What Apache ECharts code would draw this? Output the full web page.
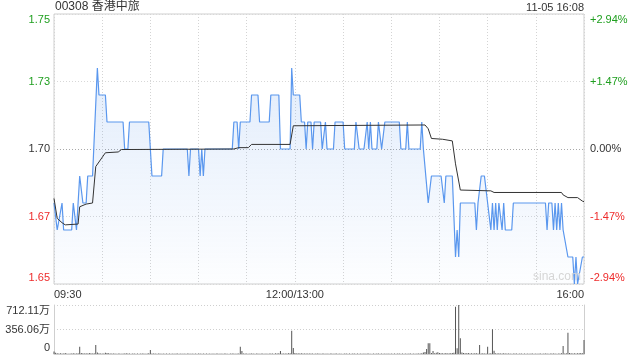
<!DOCTYPE html>
<html><head><meta charset="utf-8">
<script src="https://cdn.jsdelivr.net/npm/echarts@6/dist/echarts.min.js"></script>
<style>html,body{margin:0;padding:0;background:#fff}#c{width:640px;height:360px}</style>
</head><body><div id="c"></div>
<script>
const titleText = '00308 香港中旅';
const stampText = '11-05 16:08';
const priceTicks = ['1.65','1.67','1.70','1.73','1.75'];
const pctTicks = ['-2.94%','-1.47%','0.00%','+1.47%','+2.94%'];
const timeTickPos = [0,150,330];
const timeTickText = ['09:30','12:00/13:00','16:00'];
const volTicks = ['0','356.06万','712.11万'];

// [minute index since 09:30 (lunch removed), price]
const price = [[0,1.68],[2,1.67],[5,1.68],[6,1.67],[11,1.67],[12,1.68],[14,1.67],[15,1.67],[16,1.69],[18,1.68],[20,1.68],[21,1.69],[24,1.69],[27,1.73],[28,1.72],[32,1.72],[33,1.71],[43,1.71],[44,1.70],[46,1.70],[47,1.71],[59,1.71],[61,1.69],[67,1.69],[68,1.70],[83,1.70],[84,1.69],[85,1.70],[90,1.70],[91,1.69],[92,1.70],[93,1.69],[94,1.70],[111,1.70],[112,1.71],[114,1.71],[115,1.70],[116,1.71],[122,1.71],[123,1.72],[127,1.72],[128,1.71],[134,1.71],[135,1.72],[140,1.72],[141,1.70],[147,1.70],[148,1.73],[149,1.72],[153,1.72],[154,1.71],[156,1.71],[157,1.70],[158,1.71],[160,1.71],[161,1.70],[162,1.71],[166,1.71],[167,1.70],[169,1.71],[170,1.70],[174,1.70],[175,1.71],[180,1.71],[181,1.70],[187,1.70],[188,1.71],[190,1.70],[193,1.70],[195,1.71],[196,1.70],[197,1.71],[198,1.70],[201,1.70],[202,1.71],[204,1.70],[206,1.71],[215,1.71],[216,1.70],[219,1.70],[220,1.71],[221,1.70],[228,1.70],[229,1.71],[230,1.70],[231,1.70],[233,1.68],[235,1.69],[241,1.69],[243,1.68],[244,1.69],[248,1.69],[250,1.66],[251,1.67],[252,1.66],[253,1.68],[262,1.68],[263,1.67],[264,1.68],[266,1.69],[268,1.69],[270,1.68],[271,1.68],[272,1.67],[273,1.68],[274,1.67],[275,1.68],[276,1.67],[277,1.68],[278,1.68],[279,1.67],[280,1.68],[281,1.67],[285,1.67],[286,1.68],[306,1.68],[307,1.67],[308,1.68],[310,1.68],[311,1.67],[312,1.68],[313,1.67],[314,1.68],[315,1.67],[316,1.68],[317,1.67],[318,1.67],[320,1.66],[323,1.66],[324,1.65],[325,1.66],[326,1.65],[327,1.65],[329,1.66],[330,1.66]];

// [minute, average price]
const avgPrice = [[0,1.6817],[2,1.6743],[5,1.6727],[7,1.6719],[15,1.6722],[16,1.6786],[20,1.6796],[24,1.6800],[26,1.6935],[32,1.6986],[40,1.6989],[42,1.6998],[112,1.7000],[115,1.7005],[121,1.7005],[123,1.7017],[147,1.7017],[149,1.7086],[231,1.7089],[233,1.7075],[235,1.7039],[242,1.7036],[243,1.7030],[248,1.7030],[250,1.6945],[253,1.6848],[272,1.6845],[274,1.6839],[316,1.6839],[317,1.6830],[320,1.6820],[326,1.6820],[329,1.6807],[330,1.6805]];

// volume per minute (万)
const volumes = [
35,18,12,8,10,6,9,14,7,5,
8,6,12,9,7,10,107,15,10,8,
12,9,14,10,8,11,131,20,12,9,
7,9,18,14,11,8,6,9,7,5,
6,8,5,9,7,12,6,8,5,7,
6,4,8,5,7,9,6,5,8,12,
58,9,6,8,5,7,6,4,9,5,
6,5,7,4,8,5,6,7,4,6,
5,7,4,6,9,5,6,4,7,5,
6,8,5,7,4,6,5,8,4,6,
5,7,6,4,8,5,6,7,5,4,
6,9,8,5,7,6,107,44,9,6,
8,5,7,6,9,5,6,8,5,7,
6,5,8,4,7,9,6,5,12,8,
10,44,9,6,8,7,10,12,339,87,
14,9,12,8,10,7,9,6,8,7,
6,8,5,7,6,9,5,8,6,4,
7,5,6,8,4,6,7,5,6,4,
5,7,6,4,8,5,6,7,4,6,
5,6,4,7,5,6,8,5,4,6,
5,7,6,4,6,5,8,4,6,5,
7,4,6,5,8,6,4,7,5,6,
5,6,8,4,7,5,6,9,7,12,
20,28,73,155,155,16,44,12,18,24,
14,10,12,8,16,9,12,10,14,18,
688,82,712,228,20,16,12,10,14,9,
11,8,10,12,9,131,8,10,7,9,
107,9,12,358,48,10,8,12,9,7,
10,8,6,9,7,5,8,6,7,5,
6,8,5,7,4,6,5,8,6,5,
7,5,6,8,5,7,6,9,5,6,
8,6,7,5,9,6,10,116,8,12,
310,14,10,8,12,9,11,10,14,12,
203];

const FONT = "'Liberation Sans', Arial, 'Noto Sans CJK SC', sans-serif";
const GREEN = '#1f9f1f', RED = '#ee2b2b', DARK = '#333';
const tickStyles = ['rb','r','k','g','gt'];
const rich = {
  gt:{color:GREEN,fontSize:11,fontFamily:FONT,padding:[12,0,0,0]},
  g:{color:GREEN,fontSize:11,fontFamily:FONT},
  k:{color:DARK,fontSize:11,fontFamily:FONT},
  r:{color:RED,fontSize:11,fontFamily:FONT},
  rb:{color:RED,fontSize:11,fontFamily:FONT,padding:[0,0,12,0]}
};
const volStyles = ['kb','k','kt'];
const volRich = {
  kt:{color:DARK,fontSize:11,fontFamily:FONT,padding:[12,0,0,0]},
  k:{color:DARK,fontSize:11,fontFamily:FONT},
  kb:{color:DARK,fontSize:11,fontFamily:FONT,padding:[0,0,12,0]}
};
const volMax = 712.11;

const chart = echarts.init(document.getElementById('c'), null, {renderer:'canvas'});
chart.setOption({
  animation:false,
  textStyle:{fontFamily:FONT},
  graphic:[
    {type:'text', left:55, top:1, style:{text:titleText, fontSize:12, fill:DARK, fontFamily:FONT}},
    {type:'text', right:56, top:2, style:{text:stampText, fontSize:11, fill:DARK, fontFamily:FONT}},
    {type:'text', left:533, top:271, z:10, style:{text:'sina.com', fontSize:12, fill:'#d6d6d6', fontFamily:FONT}}
  ],
  grid:[
    {left:54, right:56, top:14, height:270, show:true, borderColor:'#cfcfcf', borderWidth:1},
    {left:54, right:56, top:305, height:49}
  ],
  xAxis:[
    {type:'value', gridIndex:0, min:0, max:330, interval:30,
     axisLine:{show:false}, axisTick:{show:false},
     splitLine:{show:true, lineStyle:{color:'#d4d4d4', type:[1,2]}},
     axisLabel:{show:true, margin:5, fontSize:11, color:DARK, fontFamily:FONT,
       alignMinLabel:'left', alignMaxLabel:'right',
       formatter:function(v){const i=timeTickPos.indexOf(v);return i>=0?timeTickText[i]:'';}}},
    {type:'value', gridIndex:1, min:0, max:330, interval:30,
     axisLine:{show:true, lineStyle:{color:'#cfcfcf'}}, axisTick:{show:false},
     splitLine:{show:false}, axisLabel:{show:false}}
  ],
  yAxis:[
    {type:'value', gridIndex:0, min:1.65, max:1.75, interval:0.025, position:'left',
     axisLine:{show:false}, axisTick:{show:false},
     splitLine:{show:true, lineStyle:{color:['#d8d8d8','#d8d8d8','#a8a8a8','#d8d8d8','#d8d8d8'], type:[1,2]}},
     axisLabel:{margin:4, rich:rich,
       formatter:function(v,i){return '{'+tickStyles[i]+'|'+priceTicks[i]+'}';}}},
    {type:'value', gridIndex:0, min:1.65, max:1.75, interval:0.025, position:'right',
     axisLine:{show:false}, axisTick:{show:false}, splitLine:{show:false},
     axisLabel:{margin:6, rich:rich,
       formatter:function(v,i){return '{'+tickStyles[i]+'|'+pctTicks[i]+'}';}}},
    {type:'value', gridIndex:1, min:0, max:volMax, interval:volMax/2, position:'left',
     axisLine:{show:true, lineStyle:{color:'#cfcfcf'}}, axisTick:{show:false},
     splitLine:{show:true, lineStyle:{color:'#cfcfcf', type:[1,2]}},
     axisLabel:{margin:4, rich:volRich,
       formatter:function(v,i){return '{'+volStyles[i]+'|'+volTicks[i]+'}';}}},
    {type:'value', gridIndex:1, min:0, max:volMax, interval:volMax/2, position:'right',
     axisLine:{show:true, lineStyle:{color:'#cfcfcf'}}, axisTick:{show:false},
     splitLine:{show:false}, axisLabel:{show:false}}
  ],
  series:[
    {type:'line', xAxisIndex:0, yAxisIndex:0, data:price, showSymbol:false, symbol:'none',
     lineStyle:{color:'#5a97ee', width:1.2}, itemStyle:{color:'#5a97ee'},
     areaStyle:{color:new echarts.graphic.LinearGradient(0,0,0,1,[
       {offset:0,color:'rgba(90,150,235,0.25)'},{offset:1,color:'rgba(90,150,235,0.02)'}])}},
    {type:'line', xAxisIndex:0, yAxisIndex:0, data:avgPrice, showSymbol:false, symbol:'none',
     lineStyle:{color:'#333', width:1}, z:3},
    {type:'bar', xAxisIndex:1, yAxisIndex:2, barWidth:1,
     data:volumes.map(function(v,i){return [i,v];}),
     itemStyle:{color:'#555'}}
  ]
});
</script>
</body></html>
